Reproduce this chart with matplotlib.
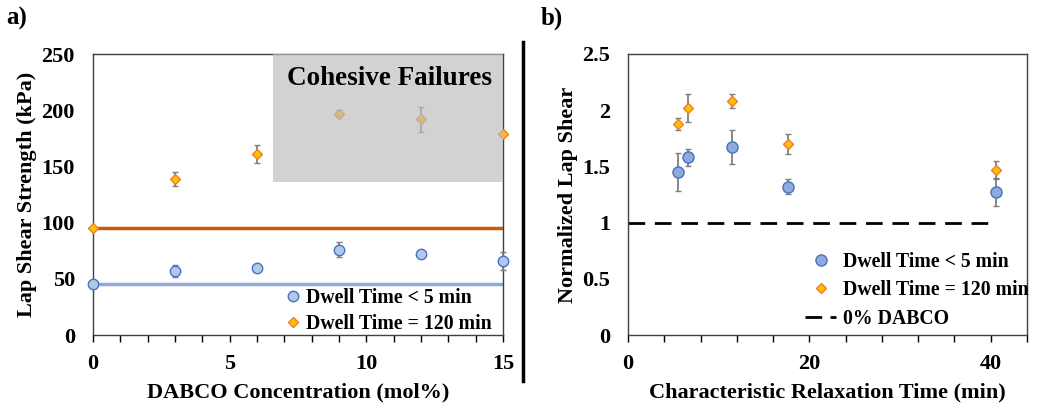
import matplotlib
matplotlib.use("Agg")
import matplotlib.pyplot as plt
from matplotlib.patches import Rectangle
from matplotlib.lines import Line2D
from matplotlib.font_manager import FontProperties

plt.rcParams['font.family'] = ['Liberation Serif', 'DejaVu Serif']
plt.rcParams['font.weight'] = 'bold'

# Panel a data
dabco = [0, 3, 6, 9, 12, 15]
short_dwell = [45, 57, 60, 76, 72, 66]
short_err = [1, 5, 2, 6.7, 2, 8]
long_dwell = [95, 139, 161, 197, 192, 179]
long_err = [0, 6, 8, 3, 11, 1]
short_baseline = 45
long_baseline = 95

# Panel b data
relax_short = [5.56, 6.67, 11.46, 17.6, 40.6]
norm_short = [1.45, 1.58, 1.67, 1.32, 1.27]
norm_short_err = [0.17, 0.075, 0.15, 0.068, 0.12]
relax_long = [5.56, 6.67, 11.46, 17.6, 40.6]
norm_long = [1.88, 2.02, 2.08, 1.70, 1.47]
norm_long_err = [0.055, 0.125, 0.06, 0.09, 0.075]

fig = plt.figure(figsize=(10.5, 4.11), dpi=100)
axa = fig.add_axes([93/1050, 76/411, 410/1050, 281/411])
axb = fig.add_axes([628/1050, 76/411, 399/1050, 281/411])

blue_edge = '#4472C4'
orange_edge = '#ED7D31'
orange_fill = '#FFC000'
err_col = '#7F7F7F'
legfont = FontProperties(family='Liberation Serif', weight='bold', size=14.2)

# ---- Panel a ----
axa.plot([0, 15], [long_baseline]*2, color='#C55A11', lw=2.5, zorder=2)
axa.plot([0, 15], [short_baseline]*2, color='#8FAADC', lw=2.5, zorder=2)
axa.errorbar(dabco, short_dwell, yerr=short_err, fmt='o', ms=7.5, mfc='#B4C7E7',
             mec=blue_edge, mew=1, ecolor=err_col, elinewidth=1.3, capsize=2.5,
             capthick=1.3, zorder=3, clip_on=False)
axa.errorbar(dabco, long_dwell, yerr=long_err, fmt='D', ms=5.5, mfc=orange_fill,
             mec=orange_edge, mew=1, ecolor=err_col, elinewidth=1.3, capsize=2.5,
             capthick=1.3, zorder=3, clip_on=False)
axa.add_patch(Rectangle((6.6, 136), 15 - 6.6, 114, facecolor='#bdbdbd', alpha=0.68,
                        edgecolor='none', zorder=4))
axa.text(10.85, 228, 'Cohesive Failures', ha='center', va='center', fontsize=19.5,
         fontweight='bold', zorder=5)
axa.set_xlim(0, 15)
axa.set_ylim(0, 250)
axa.set_xticks([0, 5, 10, 15])
axa.set_xticks(range(0, 16), minor=True)
axa.set_yticks([0, 50, 100, 150, 200, 250])
axa.tick_params(axis='x', which='both', direction='out', length=5, width=1, pad=9,
                labelsize=16)
axa.tick_params(axis='y', length=0, pad=13, labelsize=16)
for s in axa.spines.values():
    s.set_color('#404040')
    s.set_linewidth(1)
axa.set_xlabel('DABCO Concentration (mol%)', fontsize=16, fontweight='bold', labelpad=6)
axa.set_ylabel('Lap Shear Strength (kPa)', fontsize=16, fontweight='bold', labelpad=3)
ha = [Line2D([], [], marker='o', ls='none', ms=7.5, mfc='#B4C7E7', mec=blue_edge),
      Line2D([], [], marker='D', ls='none', ms=5.5, mfc=orange_fill, mec=orange_edge)]
axa.legend(ha, ['Dwell Time < 5 min', 'Dwell Time = 120 min'], loc='lower right',
           frameon=False, prop=legfont, handlelength=0.8, handletextpad=0.25,
           labelspacing=0.3, borderaxespad=0.0, bbox_to_anchor=(0.992, -0.025))

# ---- Panel b ----
axb.plot([0, 40.7], [1, 1], color='black', lw=2, ls=(0, (6, 3.5)), zorder=2)
axb.errorbar(relax_short, norm_short, yerr=norm_short_err, fmt='o', ms=8, mfc='#8FAADC',
             mec=blue_edge, mew=1, ecolor=err_col, elinewidth=1.3, capsize=2.5,
             capthick=1.3, zorder=3)
axb.errorbar(relax_long, norm_long, yerr=norm_long_err, fmt='D', ms=5.5, mfc=orange_fill,
             mec=orange_edge, mew=1, ecolor=err_col, elinewidth=1.3, capsize=2.5,
             capthick=1.3, zorder=3)
axb.set_xlim(0, 44)
axb.set_ylim(0, 2.5)
axb.set_xticks([0, 20, 40])
axb.set_xticks(range(0, 45, 4), minor=True)
axb.set_yticks([0, 0.5, 1, 1.5, 2, 2.5])
axb.set_yticklabels(['0', '0.5', '1', '1.5', '2', '2.5'])
axb.tick_params(axis='x', which='both', direction='out', length=5, width=1, pad=9,
                labelsize=16)
axb.tick_params(axis='y', length=0, pad=13, labelsize=16)
for s in axb.spines.values():
    s.set_color('#404040')
    s.set_linewidth(1)
axb.set_xlabel('Characteristic Relaxation Time (min)', fontsize=16, fontweight='bold',
               labelpad=6)
axb.set_ylabel('Normalized Lap Shear', fontsize=16, fontweight='bold', labelpad=3)
hb = [Line2D([], [], marker='o', ls='none', ms=8, mfc='#8FAADC', mec=blue_edge),
      Line2D([], [], marker='D', ls='none', ms=5.5, mfc=orange_fill, mec=orange_edge),
      Line2D([], [], color='black', lw=2, ls=(0, (6, 3))) ]
axb.legend(hb, ['Dwell Time < 5 min', 'Dwell Time = 120 min', '0% DABCO'],
           loc='lower right', frameon=False, prop=legfont, handlelength=1.6,
           handletextpad=0.35, labelspacing=0.42, borderaxespad=0.0,
           bbox_to_anchor=(1.025, -0.005))

# Panel labels and separator
fig.text(6/1050, 1 - 18/411, 'a)', fontsize=18, fontweight='bold', va='center')
fig.text(541/1050, 1 - 18/411, 'b)', fontsize=18, fontweight='bold', va='center')
fig.add_artist(Line2D([523/1050, 523/1050], [1 - 42/411, 1 - 381/411], color='black',
                      lw=2.5, transform=fig.transFigure))

fig.savefig('out.png', dpi=100)
